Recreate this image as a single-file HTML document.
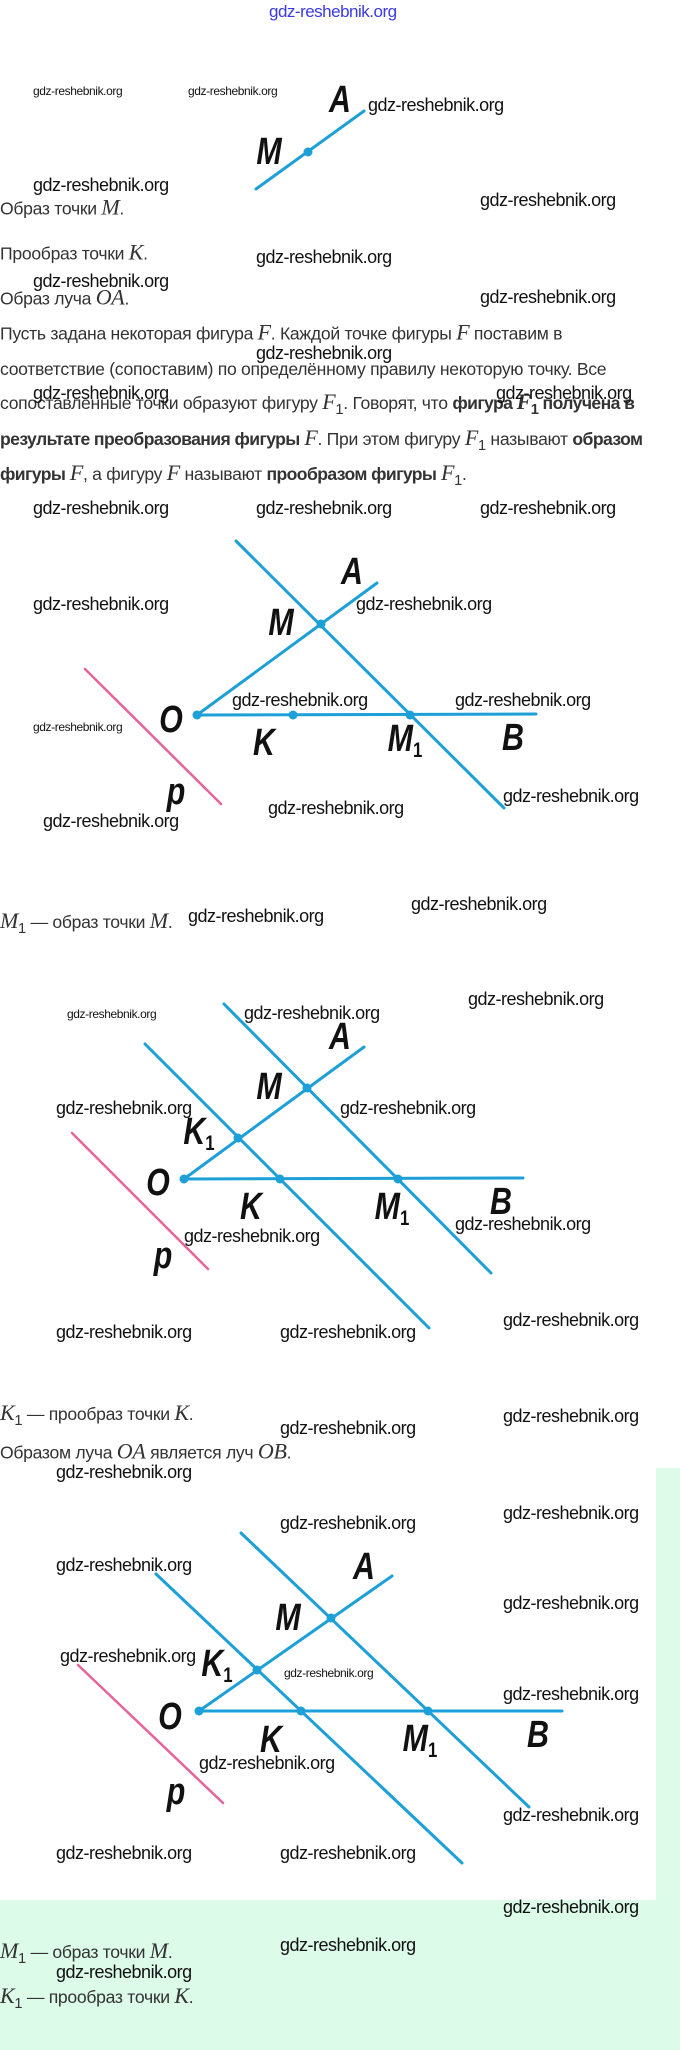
<!DOCTYPE html>
<html><head><meta charset="utf-8">
<style>
body{margin:0;width:680px;height:2050px;position:relative;background:#fff;overflow:hidden;font-family:"Liberation Sans",sans-serif;}
.g{position:absolute;background:#dcfbe9;}
.w{position:absolute;font-size:18px;color:#111;line-height:20px;transform:translateY(-50%);white-space:nowrap;letter-spacing:-0.5px;}
.ws{position:absolute;font-size:12px;color:#111;line-height:14px;transform:translateY(-50%);white-space:nowrap;letter-spacing:-0.4px;}
.t{position:absolute;left:0;font-size:17.6px;color:#333;line-height:22px;transform:translateY(-50%);white-space:nowrap;letter-spacing:-0.3px;}
.t b{letter-spacing:-0.6px;}
.m{font-family:"Liberation Serif",serif;font-style:italic;font-size:22px;color:#333;}
.L{position:absolute;font-family:"Liberation Sans",sans-serif;font-weight:bold;font-style:italic;font-size:38px;line-height:38px;color:#111;transform:translate(-50%,-50%) scaleX(0.8);white-space:nowrap;}
.L sub{font-size:21px;font-style:normal;vertical-align:-6px;}
svg{position:absolute;left:0;top:0;}
</style></head><body>
<div class="g" style="left:656px;top:1468px;width:24px;height:432px"></div>
<div class="g" style="left:0;top:1900px;width:680px;height:150px"></div>

<svg width="680" height="2050">
<g stroke="#1d9fd8" stroke-width="3" stroke-linecap="round" fill="none">
<line x1="256" y1="189" x2="364" y2="111"/>
<line x1="236" y1="541" x2="504" y2="808"/>
<line x1="197" y1="715" x2="377" y2="583"/>
<line x1="197" y1="715" x2="536" y2="714"/>
<line x1="224" y1="1004" x2="491" y2="1273"/>
<line x1="145" y1="1044" x2="429" y2="1328"/>
<line x1="184" y1="1179" x2="364" y2="1047"/>
<line x1="184" y1="1179" x2="523" y2="1178"/>
<line x1="241" y1="1533" x2="529" y2="1807"/>
<line x1="156" y1="1574" x2="462" y2="1863"/>
<line x1="199" y1="1711" x2="392" y2="1576"/>
<line x1="199" y1="1711" x2="562" y2="1711"/>
</g>
<g stroke="#e5649c" stroke-width="2.5" stroke-linecap="round">
<line x1="85" y1="669" x2="221" y2="804"/>
<line x1="72" y1="1133" x2="208" y2="1269"/>
<line x1="78" y1="1665" x2="223" y2="1803"/>
</g>
<g fill="#1d9fd8">
<circle cx="308" cy="152" r="4.5"/>
<circle cx="197" cy="715" r="4.5"/><circle cx="321" cy="624" r="4.5"/><circle cx="293" cy="715" r="4.5"/><circle cx="410" cy="715" r="4.5"/>
<circle cx="184" cy="1179" r="4.5"/><circle cx="307" cy="1088" r="4.5"/><circle cx="238" cy="1138" r="4.5"/><circle cx="280" cy="1179" r="4.5"/><circle cx="398" cy="1179" r="4.5"/>
<circle cx="199" cy="1711" r="4.5"/><circle cx="331" cy="1618" r="4.5"/><circle cx="257" cy="1670" r="4.5"/><circle cx="301" cy="1711" r="4.5"/><circle cx="428" cy="1711" r="4.5"/>
</g>
</svg>

<div style="position:absolute;left:269px;top:2px;font-size:17px;color:#3a3ae0;letter-spacing:-0.5px;">gdz-reshebnik.org</div>

<div class="L" style="left:340px;top:100px">A</div>
<div class="L" style="left:269px;top:152px">M</div>
<div class="L" style="left:352px;top:572px">A</div>
<div class="L" style="left:281px;top:623px">M</div>
<div class="L" style="left:171px;top:720px">O</div>
<div class="L" style="left:264px;top:743px">K</div>
<div class="L" style="left:405px;top:745px">M<sub>1</sub></div>
<div class="L" style="left:513px;top:738px">B</div>
<div class="L" style="left:176px;top:792px">p</div>
<div class="L" style="left:340px;top:1037px">A</div>
<div class="L" style="left:269px;top:1087px">M</div>
<div class="L" style="left:199px;top:1138px">K<sub>1</sub></div>
<div class="L" style="left:158px;top:1183px">O</div>
<div class="L" style="left:251px;top:1207px">K</div>
<div class="L" style="left:392px;top:1213px">M<sub>1</sub></div>
<div class="L" style="left:501px;top:1202px">B</div>
<div class="L" style="left:163px;top:1256px">p</div>
<div class="L" style="left:364px;top:1567px">A</div>
<div class="L" style="left:288px;top:1618px">M</div>
<div class="L" style="left:217px;top:1670px">K<sub>1</sub></div>
<div class="L" style="left:170px;top:1717px">O</div>
<div class="L" style="left:271px;top:1740px">K</div>
<div class="L" style="left:420px;top:1745px">M<sub>1</sub></div>
<div class="L" style="left:538px;top:1735px">B</div>
<div class="L" style="left:176px;top:1792px">p</div>

<div class="t" style="top:208px">Образ точки <span class="m">M</span>.</div>
<div class="t" style="top:253px">Прообраз точки <span class="m">K</span>.</div>
<div class="t" style="top:298px">Образ луча <span class="m">OA</span>.</div>
<div class="t" style="top:333px">Пусть задана некоторая фигура <span class="m">F</span>. Каждой точке фигуры <span class="m">F</span> поставим в</div>
<div class="t" style="top:369px">соответствие (сопоставим) по определённому правилу некоторую точку. Все</div>
<div class="t" style="top:406px">сопоставленные точки образуют фигуру <span class="m">F</span><sub>1</sub>. Говорят, что <b>фигура <span class="m">F</span><sub>1</sub> получена в</b></div>
<div class="t" style="top:442px"><b>результате преобразования фигуры</b> <span class="m">F</span>. При этом фигуру <span class="m">F</span><sub>1</sub> называют <b>образом</b></div>
<div class="t" style="top:477px"><b>фигуры</b> <span class="m">F</span>, а фигуру <span class="m">F</span> называют <b>прообразом фигуры</b> <span class="m">F</span><sub>1</sub>.</div>
<div class="t" style="top:925px"><span class="m">M</span><sub>1</sub> — образ точки <span class="m">M</span>.</div>
<div class="t" style="top:1417px"><span class="m">K</span><sub>1</sub> — прообраз точки <span class="m">K</span>.</div>
<div class="t" style="top:1452px">Образом луча <span class="m">OA</span> является луч <span class="m">OB</span>.</div>
<div class="t" style="top:1955px"><span class="m">M</span><sub>1</sub> — образ точки <span class="m">M</span>.</div>
<div class="t" style="top:2000px"><span class="m">K</span><sub>1</sub> — прообраз точки <span class="m">K</span>.</div>

<div class="ws" style="left:33px;top:91px">gdz-reshebnik.org</div>
<div class="ws" style="left:188px;top:91px">gdz-reshebnik.org</div>
<div class="w" style="left:368px;top:105px">gdz-reshebnik.org</div>
<div class="w" style="left:33px;top:185px">gdz-reshebnik.org</div>
<div class="w" style="left:480px;top:200px">gdz-reshebnik.org</div>
<div class="w" style="left:256px;top:257px">gdz-reshebnik.org</div>
<div class="w" style="left:33px;top:281px">gdz-reshebnik.org</div>
<div class="w" style="left:480px;top:297px">gdz-reshebnik.org</div>
<div class="w" style="left:256px;top:353px">gdz-reshebnik.org</div>
<div class="w" style="left:33px;top:393px">gdz-reshebnik.org</div>
<div class="w" style="left:496px;top:393px">gdz-reshebnik.org</div>
<div class="w" style="left:33px;top:508px">gdz-reshebnik.org</div>
<div class="w" style="left:256px;top:508px">gdz-reshebnik.org</div>
<div class="w" style="left:480px;top:508px">gdz-reshebnik.org</div>
<div class="w" style="left:33px;top:604px">gdz-reshebnik.org</div>
<div class="w" style="left:356px;top:604px">gdz-reshebnik.org</div>
<div class="w" style="left:232px;top:700px">gdz-reshebnik.org</div>
<div class="w" style="left:455px;top:700px">gdz-reshebnik.org</div>
<div class="ws" style="left:33px;top:727px">gdz-reshebnik.org</div>
<div class="w" style="left:503px;top:796px">gdz-reshebnik.org</div>
<div class="w" style="left:268px;top:808px">gdz-reshebnik.org</div>
<div class="w" style="left:43px;top:821px">gdz-reshebnik.org</div>
<div class="w" style="left:411px;top:904px">gdz-reshebnik.org</div>
<div class="w" style="left:188px;top:916px">gdz-reshebnik.org</div>
<div class="w" style="left:468px;top:999px">gdz-reshebnik.org</div>
<div class="ws" style="left:67px;top:1014px">gdz-reshebnik.org</div>
<div class="w" style="left:244px;top:1013px">gdz-reshebnik.org</div>
<div class="w" style="left:56px;top:1108px">gdz-reshebnik.org</div>
<div class="w" style="left:340px;top:1108px">gdz-reshebnik.org</div>
<div class="w" style="left:455px;top:1224px">gdz-reshebnik.org</div>
<div class="w" style="left:184px;top:1236px">gdz-reshebnik.org</div>
<div class="w" style="left:503px;top:1320px">gdz-reshebnik.org</div>
<div class="w" style="left:56px;top:1332px">gdz-reshebnik.org</div>
<div class="w" style="left:280px;top:1332px">gdz-reshebnik.org</div>
<div class="w" style="left:503px;top:1416px">gdz-reshebnik.org</div>
<div class="w" style="left:280px;top:1428px">gdz-reshebnik.org</div>
<div class="w" style="left:56px;top:1472px">gdz-reshebnik.org</div>
<div class="w" style="left:503px;top:1513px">gdz-reshebnik.org</div>
<div class="w" style="left:280px;top:1523px">gdz-reshebnik.org</div>
<div class="w" style="left:56px;top:1565px">gdz-reshebnik.org</div>
<div class="w" style="left:503px;top:1603px">gdz-reshebnik.org</div>
<div class="w" style="left:60px;top:1656px">gdz-reshebnik.org</div>
<div class="ws" style="left:284px;top:1673px">gdz-reshebnik.org</div>
<div class="w" style="left:503px;top:1694px">gdz-reshebnik.org</div>
<div class="w" style="left:199px;top:1763px">gdz-reshebnik.org</div>
<div class="w" style="left:503px;top:1815px">gdz-reshebnik.org</div>
<div class="w" style="left:56px;top:1853px">gdz-reshebnik.org</div>
<div class="w" style="left:280px;top:1853px">gdz-reshebnik.org</div>
<div class="w" style="left:503px;top:1907px">gdz-reshebnik.org</div>
<div class="w" style="left:280px;top:1945px">gdz-reshebnik.org</div>
<div class="w" style="left:56px;top:1972px">gdz-reshebnik.org</div>
</body></html>
